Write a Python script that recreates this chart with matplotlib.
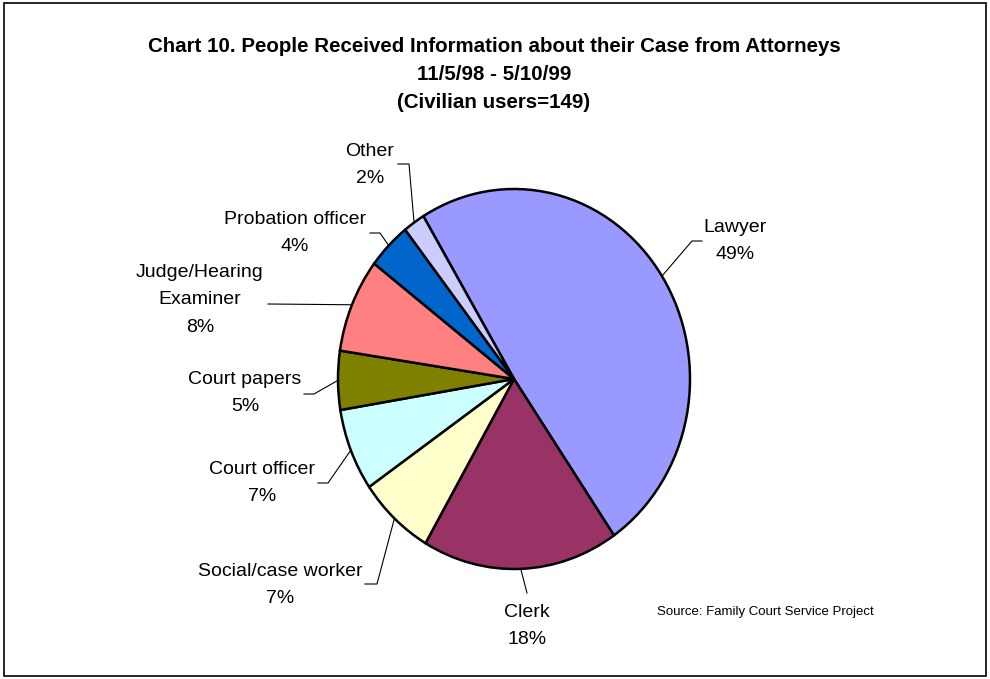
import numpy as np
import matplotlib
matplotlib.use("Agg")
import matplotlib.pyplot as plt

# ---- data ----
categories = ["Lawyer", "Clerk", "Social/case worker", "Court officer",
              "Court papers", "Judge/Hearing\nExaminer", "Probation officer", "Other"]
values = [49, 18, 7, 7, 5, 8, 4, 2]
colors = ["#9999FF", "#993366", "#FFFFCC", "#CCFFFF",
          "#808000", "#FF8080", "#0066CC", "#CCCCFF"]

title = ("Chart 10. People Received Information about their Case from Attorneys\n"
         "11/5/98 - 5/10/99\n(Civilian users=149)")
source = "Source: Family Court Service Project"

# ---- layout (pixels in a 990x679 canvas) ----
W, H = 990, 679
CX, CY, RX, RY = 514, 379, 176, 190
# label text centre, leader end point, optional elbow point
label_pos = [(735, 241), (527, 626), (280, 585), (262, 483),
             (245, 393), (200, 300), (295, 233), (370, 165)]
leader_end = [(702, 241), (527, 593), (365, 584), (318, 483),
              (304, 394), (268, 304), (370, 233), (398, 164)]
leader_elbow = [(692, 241), None, (377, 584), (328, 483),
                (314, 394), None, (380, 233), (409, 164)]

plt.rcParams['font.family'] = ['Liberation Sans', 'DejaVu Sans']

fig = plt.figure(figsize=(W / 100, H / 100), dpi=100)
fig.patch.set_facecolor("white")

# border
border = plt.Rectangle((4 / W, 3 / H), (W - 8) / W, (H - 6) / H,
                       transform=fig.transFigure, fill=False,
                       edgecolor="black", linewidth=1.2)
fig.patches.append(border)

ax = fig.add_axes([(CX - RX) / W, (H - (CY + RY)) / H, 2 * RX / W, 2 * RY / H])
wedges, _ = ax.pie(values, colors=colors, startangle=121, counterclock=False,
                   radius=1, center=(0, 0), frame=False,
                   wedgeprops=dict(edgecolor="black", linewidth=1.8))
ax.set_aspect("auto")
ax.set_xlim(-1, 1)
ax.set_ylim(-1, 1)
ax.axis("off")
for w in wedges:
    w.set_clip_on(False)


def px2d(p):
    return ((p[0] - CX) / RX, (CY - p[1]) / RY)


for i, w in enumerate(wedges):
    mid = np.deg2rad((w.theta1 + w.theta2) / 2)
    anchor = (np.cos(mid), np.sin(mid))
    pts = [anchor]
    if leader_elbow[i] is not None:
        pts.append(px2d(leader_elbow[i]))
    pts.append(px2d(leader_end[i]))
    xs, ys = zip(*pts)
    ax.plot(xs, ys, color="black", linewidth=0.8, clip_on=False)
    tx, ty = px2d(label_pos[i])
    ax.text(tx, ty, f"{categories[i]}\n{values[i]}%", ha="center", va="center",
            fontsize=14, linespacing=1.8, clip_on=False)

fig.text(494 / W, 1 - 75 / H, title, ha="center", va="center",
         fontsize=14.8, fontweight="bold", linespacing=1.6)
fig.text(765 / W, 1 - 612 / H, source, ha="center", va="center", fontsize=9.5)

fig.savefig("out.png", dpi=100, facecolor="white")
